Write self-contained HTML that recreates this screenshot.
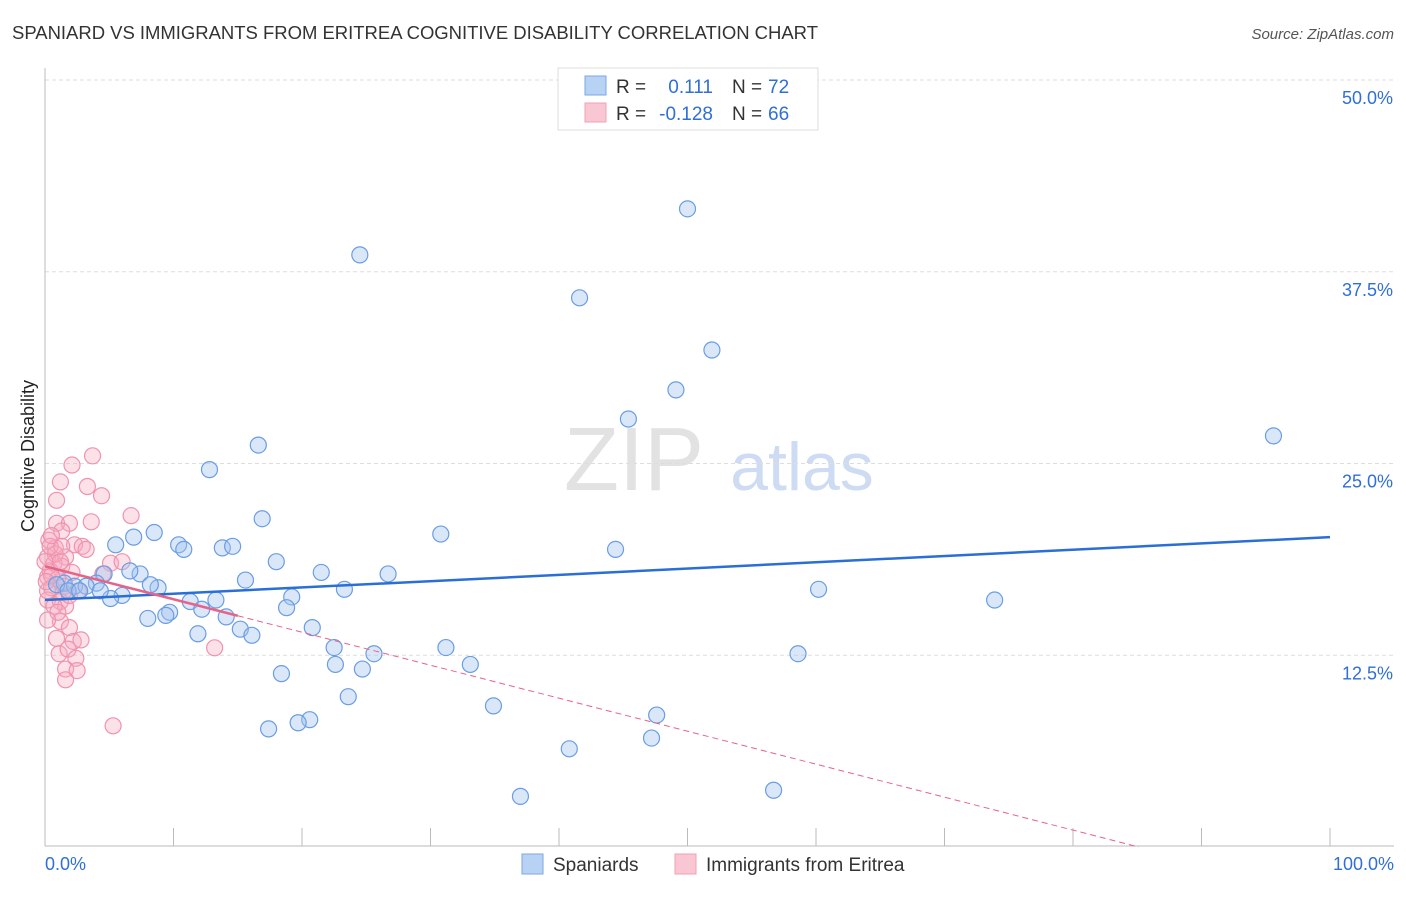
<!DOCTYPE html>
<html><head><meta charset="utf-8"><style>
body{margin:0;background:#fff;font-family:"Liberation Sans",sans-serif;}
svg text{font-family:"Liberation Sans",sans-serif;}
</style></head><body>
<svg id="c" width="1406" height="892">
<text x="12" y="39" font-size="18.5" fill="#333" textLength="806">SPANIARD VS IMMIGRANTS FROM ERITREA COGNITIVE DISABILITY CORRELATION CHART</text>
<text x="1394" y="39" font-size="15" fill="#555" font-style="italic" text-anchor="end">Source: ZipAtlas.com</text>
<text x="34" y="456" font-size="18" fill="#222" text-anchor="middle" transform="rotate(-90 34 456)">Cognitive Disability</text>
<g><text x="634" y="490" font-size="90" fill="#e2e2e2" font-family="Liberation Serif" text-anchor="middle">ZIP</text><text x="802" y="490" font-size="68" fill="#cddcf2" text-anchor="middle">atlas</text></g>
<g id="grid"></g><g id="pts"></g><g id="lines"></g>
<g>
<rect x="558" y="68" width="260" height="62" fill="#fff" stroke="#ddd"/>
<rect x="585" y="76" width="21" height="19" fill="#b8d2f4" stroke="#7aa7e6"/>
<rect x="585" y="103" width="21" height="19" fill="#f9c6d3" stroke="#eea1b6"/>
<text x="616" y="93" font-size="19" fill="#333">R =</text><text x="713" y="93" font-size="19" fill="#2f6fd6" text-anchor="end">0.111</text>
<text x="732" y="93" font-size="19" fill="#333">N =</text><text x="768" y="93" font-size="19" fill="#2f6fd6">72</text>
<text x="616" y="120" font-size="19" fill="#333">R =</text><text x="713" y="120" font-size="19" fill="#2f6fd6" text-anchor="end">-0.128</text>
<text x="732" y="120" font-size="19" fill="#333">N =</text><text x="768" y="120" font-size="19" fill="#2f6fd6">66</text>
</g>
<g>
<rect x="522" y="854" width="21" height="20" fill="#b8d2f4" stroke="#7aa7e6"/>
<text x="553" y="871" font-size="19" fill="#333">Spaniards</text>
<rect x="675" y="854" width="21" height="20" fill="#f9c6d3" stroke="#eea1b6"/>
<text x="706" y="871" font-size="19" fill="#333">Immigrants from Eritrea</text>
</g>
</svg>
<script>
const blueX=[50.0,24.5,41.6,51.9,49.1,45.4,95.6,16.6,12.8,16.9,8.5,30.8,6.9,5.5,10.4,10.8,13.8,14.6,44.4,18.0,21.5,26.7,15.6,7.4,4.6,6.6,4.0,1.5,2.3,3.2,8.8,23.3,60.2,19.2,6.0,5.1,11.3,13.3,18.8,12.2,9.7,73.9,8.0,9.4,14.1,15.2,16.1,11.9,20.8,22.5,31.2,25.6,58.6,33.1,22.6,24.7,18.4,23.6,34.9,47.6,20.6,19.7,17.4,47.2,40.8,37.0,56.7,0.9,1.8,2.7,4.3,8.2];
const blueY=[41.6,38.6,35.8,32.4,29.8,27.9,26.8,26.2,24.6,21.4,20.5,20.4,20.2,19.7,19.7,19.4,19.5,19.6,19.4,18.6,17.9,17.8,17.4,17.8,17.8,18.0,17.2,17.2,17.0,17.0,16.9,16.8,16.8,16.3,16.4,16.2,16.0,16.1,15.6,15.5,15.3,16.1,14.9,15.1,15.0,14.2,13.8,13.9,14.3,13.0,13.0,12.6,12.6,11.9,11.9,11.6,11.3,9.8,9.2,8.6,8.3,8.1,7.7,7.1,6.4,3.3,3.7,17.1,16.7,16.7,16.7,17.1];
const pinkX=[3.7,2.1,1.2,0.9,4.4,3.3,6.7,0.9,1.9,3.6,1.3,0.3,0.8,2.3,2.9,0.2,1.6,3.2,0.7,0.4,1.3,0.2,1.0,2.1,0.5,1.4,0.2,1.2,1.6,5.1,6.0,4.5,0.7,1.2,1.9,0.9,2.2,2.8,1.1,1.8,2.4,1.6,2.5,1.6,5.3,13.2,0.5,0.2,0.8,0.0,0.4,1.5,1.0,0.2,1.2,1.9,0.5,2.6,0.1,1.3];
const pinkY=[25.5,24.9,23.8,22.6,22.9,23.5,21.6,21.1,21.1,21.2,20.6,20.0,19.5,19.7,19.6,18.9,18.9,19.4,18.5,18.0,18.3,17.6,17.5,17.9,16.9,16.6,16.1,16.0,15.7,18.5,18.6,17.8,15.7,14.7,14.3,13.6,13.4,13.5,12.6,12.9,12.3,11.6,11.5,10.9,7.9,12.985,17.7,16.7,19.1,18.6,19.6,17.0,15.3,14.8,18.6,16.4,20.3,16.7,17.3,19.6];
const blueTrend=[16.1,20.2], pinkTrend=[18.3,-3.2];
const yTicks=[12.5,25,37.5,50];
const X=v=>45+v*12.85, Y=v=>847-v*15.34;
const NS="http://www.w3.org/2000/svg";
function mk(p,t,a){const e=document.createElementNS(NS,t);for(const k in a)e.setAttribute(k,a[k]);p.appendChild(e);return e;}
const g=document.getElementById('grid');
yTicks.forEach(t=>{
 const l=mk(g,'line',{x1:45,x2:1394,y1:Y(t),y2:Y(t),stroke:'#ddd','stroke-dasharray':'4,3'});
 
 
 const tx=mk(g,'text',{x:1393,y:Y(t)+24,'font-size':18,fill:'#2f6fd6','text-anchor':'end'});tx.textContent=t.toFixed(1)+'%';
 
 
});
mk(g,'line',{x1:45,x2:45,y1:68,y2:846,stroke:'#bbb'});
mk(g,'line',{x1:45,x2:1394,y1:846,y2:846,stroke:'#bbb'});
for(let i=1;i<=10;i++){const l=mk(g,'line',{x1:X(i*10),x2:X(i*10),y1:828,y2:846,stroke:'#bbb'});
 
 }
let t1=mk(g,'text',{x:45,y:870,'font-size':18,fill:'#2f6fd6'});t1.textContent='0.0%';


let t2=mk(g,'text',{x:1394,y:870,'font-size':18,fill:'#2f6fd6','text-anchor':'end'});t2.textContent='100.0%';


const P=document.getElementById('pts');
pinkX.forEach((x,i)=>{const c=mk(P,'circle',{cx:X(x),cy:Y(pinkY[i]),r:8,fill:'rgba(246,170,192,0.35)',stroke:'#ef93ad','stroke-width':1.2});
 
 });
blueX.forEach((x,i)=>{const c=mk(P,'circle',{cx:X(x),cy:Y(blueY[i]),r:8,fill:'rgba(160,196,240,0.4)',stroke:'#6a9de3','stroke-width':1.2});
 
 });
const L=document.getElementById('lines');
let b=mk(L,'line',{x1:X(0),y1:Y(blueTrend[0]),x2:X(100),y2:Y(blueTrend[1]),stroke:'#2a6fd6','stroke-width':2.5});


const pv=x=>pinkTrend[0]+(pinkTrend[1]-pinkTrend[0])*x/100;
let p1=mk(L,'line',{x1:X(0),y1:Y(pv(0)),x2:X(15),y2:Y(pv(15)),stroke:'#e5648a','stroke-width':2.5});


const xe=(0-pinkTrend[0])/(pinkTrend[1]-pinkTrend[0])*100;
let p2=mk(L,'line',{x1:X(15),y1:Y(pv(15)),x2:X(Math.min(xe,100)),y2:Y(pv(Math.min(xe,100))),stroke:'#e5648a','stroke-width':1,'stroke-dasharray':'6,4'});


</script>
</body></html>
